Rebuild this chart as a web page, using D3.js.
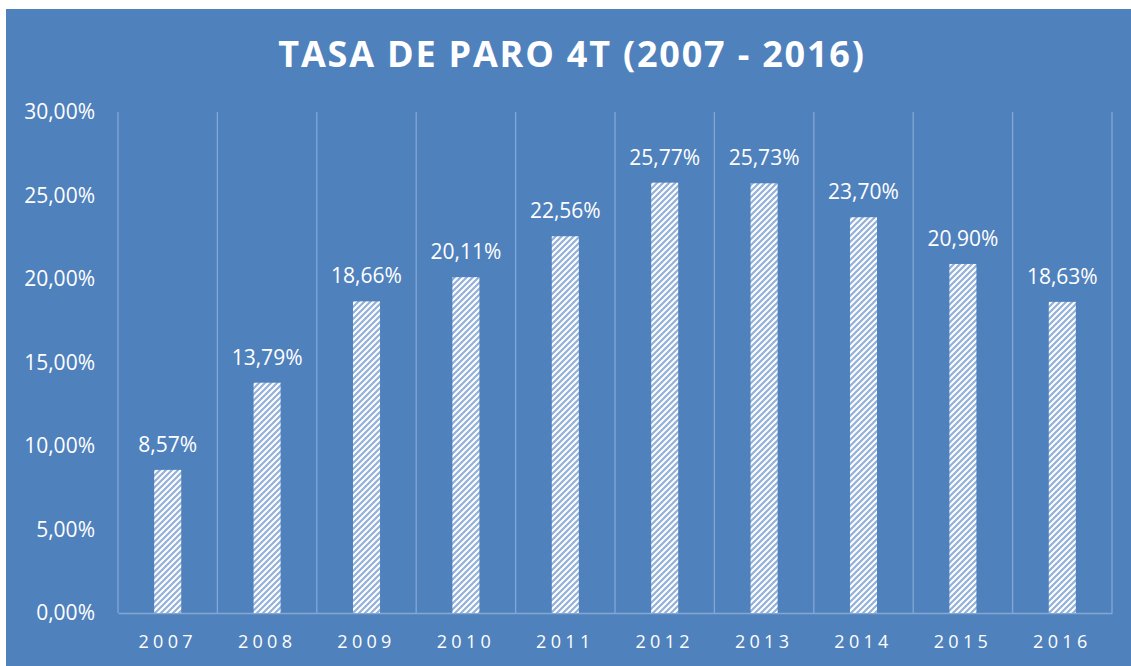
<!DOCTYPE html>
<html>
<head>
<meta charset="utf-8">
<script src="https://cdn.jsdelivr.net/npm/d3@7"></script>
<style>
  body { margin: 0; background: #fff; }
  svg { display: block; }
  text { font-family: "Open Sans", sans-serif; fill: #fff; }
</style>
</head>
<body>
<svg></svg>
<script>
const width = 1131,
    height = 666;

// data
const years = ["2007", "2008", "2009", "2010", "2011", "2012", "2013", "2014", "2015", "2016"];
const rates = [8.57, 13.79, 18.66, 20.11, 22.56, 25.77, 25.73, 23.70, 20.90, 18.63];
const yTicks = [0, 5, 10, 15, 20, 25, 30];

const svg = d3.select("svg").attr("width", width).attr("height", height);

const margin = {top: 112, left: 118, right: 19, bottom: 53};

// chart background
svg.append("rect")
    .attr("x", 6).attr("y", 9)
    .attr("width", width - 6).attr("height", height - 9)
    .attr("fill", "#4f81bd");

// hatch for the bars
const pat = svg.append("defs").append("pattern")
    .attr("id", "hatch")
    .attr("patternUnits", "userSpaceOnUse")
    .attr("width", 6).attr("height", 6);
pat.append("rect").attr("width", 6).attr("height", 6).attr("fill", "#fff");
pat.append("path")
    .attr("d", "M-1,1 l2,-2 M0,6 l6,-6 M5,7 l2,-2")
    .attr("stroke", "#93b1da")
    .attr("stroke-width", 2.2);

const x = d3.scaleBand()
    .domain(years)
    .range([margin.left, width - margin.right])
    .padding(0);

const y = d3.scaleLinear()
    .domain([0, 30])
    .range([height - margin.bottom, margin.top]);

const fmt = v => v.toFixed(2).replace(".", ",") + "%";

// vertical grid lines between categories
const bounds = years.map(d => x(d)).concat([x.range()[1]]);
svg.append("g").selectAll("line")
    .data(bounds)
    .enter().append("line")
    .attr("x1", d => d).attr("x2", d => d)
    .attr("y1", y(30)).attr("y2", y(0))
    .attr("stroke", "#84a7d4")
    .attr("stroke-width", 1.3);

// x axis
const xAxis = svg.append("g")
    .attr("transform", `translate(0,${y(0)})`)
    .call(d3.axisBottom(x).tickSize(0).tickPadding(22));
xAxis.select(".domain").attr("stroke", "#84a7d4").attr("stroke-width", 1.3);
xAxis.selectAll("text")
    .attr("fill", "#fff")
    .style("font-family", "Open Sans")
    .style("font-size", "18px")
    .style("letter-spacing", "4.3px");

// y axis labels
const yAxis = svg.append("g")
    .attr("transform", `translate(${margin.left},0)`)
    .call(d3.axisLeft(y).tickValues(yTicks).tickSize(0).tickPadding(23).tickFormat(fmt));
yAxis.select(".domain").remove();
yAxis.selectAll("text")
    .attr("fill", "#fff")
    .style("font-family", "Open Sans")
    .style("font-size", "21px");

// bars
const barW = x.bandwidth() * 0.272;
svg.append("g").selectAll("rect")
    .data(rates)
    .enter().append("rect")
    .attr("x", (d, i) => x(years[i]) + (x.bandwidth() - barW) / 2)
    .attr("y", d => y(d))
    .attr("width", barW)
    .attr("height", d => y(0) - y(d))
    .attr("fill", "url(#hatch)");

// value labels
svg.append("g").selectAll("text")
    .data(rates)
    .enter().append("text")
    .attr("x", (d, i) => x(years[i]) + x.bandwidth() / 2)
    .attr("y", d => y(d) - 18)
    .attr("text-anchor", "middle")
    .style("font-size", "21px")
    .text(fmt);

// title
svg.append("text")
    .attr("x", 572)
    .attr("y", 67)
    .attr("text-anchor", "middle")
    .style("font-size", "36px")
    .style("font-weight", "bold")
    .style("letter-spacing", "1.8px")
    .text("TASA DE PARO 4T (2007 - 2016)");
</script>
</body>
</html>
